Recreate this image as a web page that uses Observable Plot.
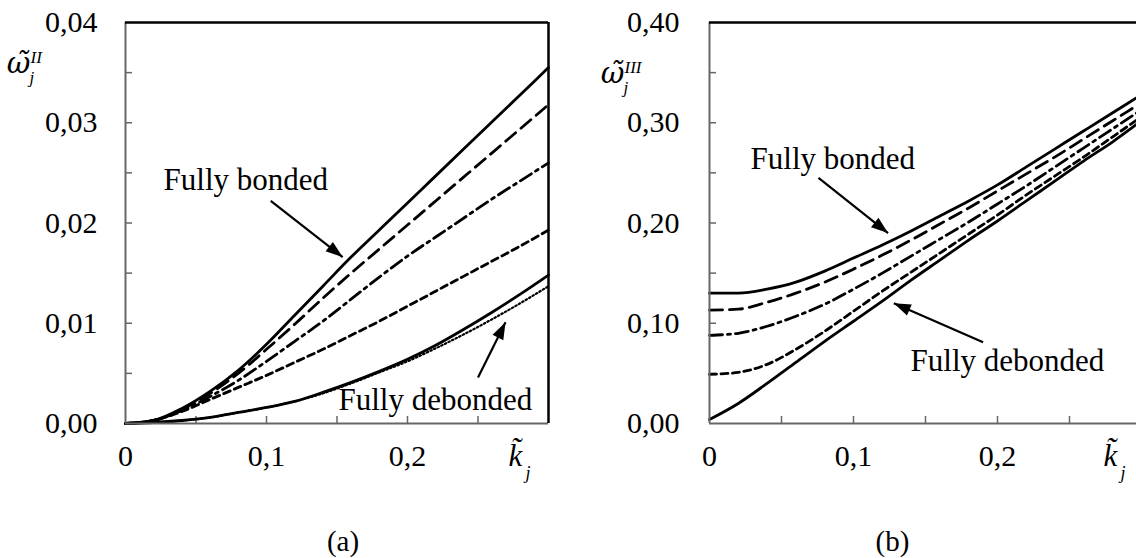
<!DOCTYPE html>
<html><head><meta charset="utf-8">
<script src="https://cdn.jsdelivr.net/npm/d3@7"></script>
<script src="https://cdn.jsdelivr.net/npm/@observablehq/plot@0.6"></script>
<style>
html,body{margin:0;padding:0;background:#fff;overflow:hidden;width:1136px;height:558px;}
#wrap{position:relative;width:1136px;height:558px;overflow:hidden;background:#fff;}
#wrap svg{position:absolute;top:0;}
</style></head><body><div id="wrap"></div>
<script>
// ---------- data ----------
const kGrid = [0, 0.02, 0.04, 0.06, 0.08, 0.1, 0.12, 0.14, 0.16, 0.18, 0.2, 0.22, 0.24, 0.26, 0.28, 0.3];

// panel (a)  omega^II
const aBonded    = [0, 0.0003, 0.0015, 0.0032, 0.0053, 0.0079, 0.0108, 0.0137, 0.0166, 0.0193, 0.0220, 0.0247, 0.0274, 0.0301, 0.0328, 0.0355];
const aLongDash  = [0, 0.0003, 0.0014, 0.0030, 0.0050, 0.0074, 0.0099, 0.0125, 0.0150, 0.0174, 0.0198, 0.0222, 0.0246, 0.0270, 0.0294, 0.0318];
const aDashDot   = [0, 0.0003, 0.0013, 0.0027, 0.0043, 0.0062, 0.0082, 0.0102, 0.0124, 0.0146, 0.0167, 0.0186, 0.0205, 0.0224, 0.0242, 0.0260];
const aShortDash = [0, 0.0003, 0.0012, 0.0024, 0.0036, 0.0048, 0.0061, 0.0074, 0.0088, 0.0102, 0.0117, 0.0132, 0.0147, 0.0162, 0.0177, 0.0193];
const aDebonded  = [0, 0.0001, 0.0003, 0.0006, 0.0011, 0.0016, 0.0022, 0.0031, 0.0041, 0.0052, 0.0064, 0.0078, 0.0094, 0.0111, 0.0129, 0.0148];
const aDotted    = [0, 0.0001, 0.0003, 0.0006, 0.0011, 0.0016, 0.0022, 0.0030, 0.0040, 0.0051, 0.0062, 0.0075, 0.0089, 0.0104, 0.0120, 0.0137];

// panel (b)  omega^III
const bBonded    = [0.130, 0.130, 0.134, 0.141, 0.152, 0.165, 0.178, 0.192, 0.207, 0.222, 0.238, 0.256, 0.274, 0.292, 0.310, 0.328];
const bLongDash  = [0.113, 0.114, 0.121, 0.130, 0.141, 0.154, 0.168, 0.183, 0.199, 0.215, 0.232, 0.249, 0.266, 0.284, 0.302, 0.320];
const bDashDot   = [0.088, 0.090, 0.097, 0.107, 0.119, 0.134, 0.150, 0.167, 0.184, 0.201, 0.219, 0.237, 0.256, 0.275, 0.294, 0.313];
const bShortDash = [0.049, 0.051, 0.059, 0.074, 0.092, 0.112, 0.132, 0.151, 0.170, 0.189, 0.208, 0.228, 0.247, 0.266, 0.286, 0.306];
const bDebonded  = [0.004, 0.020, 0.040, 0.061, 0.082, 0.102, 0.122, 0.143, 0.163, 0.183, 0.202, 0.222, 0.242, 0.262, 0.281, 0.302];

// ticks
const xDomain = [0, 0.3];
const xLabelTicks = [0, 0.1, 0.2];
const xMinorTicks = [0.05, 0.1, 0.15, 0.2, 0.25];
const aYDomain = [0, 0.04];
const aYLabelTicks = [0, 0.01, 0.02, 0.03, 0.04];
const aYMinorTicks = [0.005, 0.01, 0.015, 0.02, 0.025, 0.03, 0.035];
const bYDomain = [0, 0.4];
const bYLabelTicks = [0, 0.1, 0.2, 0.3, 0.4];
const bYMinorTicks = [0.05, 0.1, 0.15, 0.2, 0.25, 0.3, 0.35];

// annotations (label position, arrow start, arrow tip) in data units
const aNotes = [
  {label: "Fully bonded",   x: 0.027, y: 0.0243, x1: 0.103, y1: 0.0222, x2: 0.154, y2: 0.0166},
  {label: "Fully debonded", x: 0.151, y: 0.0023, x1: 0.250, y1: 0.0046, x2: 0.2695, y2: 0.0101}
];
const bNotes = [
  {label: "Fully bonded",   x: 0.0285, y: 0.264, x1: 0.0757, y1: 0.245, x2: 0.124, y2: 0.190},
  {label: "Fully debonded", x: 0.1396, y: 0.062, x1: 0.190, y1: 0.081, x2: 0.128, y2: 0.120}
];

// ---------- styles ----------
const lineStyles = [
  {dash: null, w: 2.8},
  {dash: "13,7", w: 2.8},
  {dash: "13,5,3,5", w: 2.8},
  {dash: "7,4.5", w: 2.8},
  {dash: null, w: 2.8},
  {dash: "1.5,2.5", w: 2.2}
];
const FONT = "'Liberation Serif', 'Times New Roman', serif";
const fmtY = d => d3.format(".2f")(d).replace(".", ",");
const fmtX = d => d === 0 ? "0" : d3.format(".1f")(d).replace(".", ",");

function panel(cfg) {
  const frameW = cfg.width - cfg.mL - cfg.mR;
  const frameH = cfg.height - cfg.mT - cfg.mB;
  const sx = frameW / (cfg.xDomain[1] - cfg.xDomain[0]);
  const sy = frameH / (cfg.yDomain[1] - cfg.yDomain[0]);
  const rot = d => Math.atan2((d.x2 - d.x1) * sx, (d.y2 - d.y1) * sy) * 180 / Math.PI;
  const seriesMarks = cfg.series.map((vals, i) => {
    const st = lineStyles[i];
    const rows = kGrid.map((k, j) => ({k, v: vals[j]}));
    return Plot.line(rows, {x: "k", y: "v", stroke: "black", strokeWidth: st.w,
      strokeDasharray: st.dash || undefined, curve: "monotone-x"});
  });
  const it = {fontStyle: "italic", fill: "black", lineAnchor: "bottom"};
  return Plot.plot({
    width: cfg.width, height: cfg.height,
    marginLeft: cfg.mL, marginRight: cfg.mR, marginTop: cfg.mT, marginBottom: cfg.mB,
    x: {domain: cfg.xDomain, axis: null},
    y: {domain: cfg.yDomain, axis: null},
    style: {fontFamily: FONT, fontSize: "30px", background: "white", color: "black", overflow: "visible"},
    marks: [
      Plot.tickX(xMinorTicks, {x: d => d, insetTop: frameH - 7, stroke: "#666", strokeWidth: 1.5}),
      Plot.tickY(cfg.yMinor, {y: d => d, insetRight: frameW - 7, stroke: "#666", strokeWidth: 1.5}),
      ...seriesMarks,
      Plot.ruleX([cfg.xDomain[0]], {stroke: "#666", strokeWidth: 2}),
      Plot.ruleY([cfg.yDomain[0]], {stroke: "#666", strokeWidth: 2}),
      Plot.ruleY([cfg.yDomain[1]], {stroke: "black", strokeWidth: 2.5}),
      Plot.ruleX([cfg.xDomain[1]], {stroke: "black", strokeWidth: 2.5}),
      Plot.axisX(xLabelTicks, {tickSize: 0, tickPadding: 21, tickFormat: fmtX, fontSize: 30}),
      Plot.axisY(cfg.yLabels, {tickSize: 0, tickPadding: cfg.yPad, tickFormat: fmtY, fontSize: 30}),
      Plot.text(cfg.notes, {x: "x", y: "y", text: "label", textAnchor: "start", lineAnchor: "middle", fontSize: 31, fill: "black"}),
      Plot.link(cfg.notes, {x1: "x1", y1: "y1", x2: "x2", y2: "y2", stroke: "black", strokeWidth: 2.2}),
      Plot.vector(cfg.notes, {x: "x2", y: "y2", rotate: rot, length: 17, r: 6, shape: "spike", anchor: "end", fill: "black", stroke: "none"}),
      // axis titles
      Plot.text(["\u03C9\u0303"], {...it, text: d => d, frameAnchor: "top-left", dx: cfg.wT[0], dy: cfg.wT[1], textAnchor: "middle", fontSize: 29, fontFamily: "'DejaVu Serif', serif"}),
      Plot.text([cfg.sup], {...it, text: d => d, frameAnchor: "top-left", dx: cfg.wT[0] + 12, dy: cfg.wT[1] - 10, textAnchor: "start", fontSize: 17}),
      Plot.text(["j"], {...it, text: d => d, frameAnchor: "top-left", dx: cfg.wT[0] + 11, dy: cfg.wT[1] + 10, textAnchor: "start", fontSize: 17}),
      Plot.text(["k\u0303"], {...it, text: d => d, frameAnchor: "bottom-left", dx: cfg.kT[0], dy: cfg.kT[1], textAnchor: "start", fontSize: 31}),
      Plot.text(["j"], {...it, text: d => d, frameAnchor: "bottom-left", dx: cfg.kT[0] + 17, dy: cfg.kT[1] + 13, textAnchor: "start", fontSize: 18}),
      // caption
      Plot.text([cfg.caption], {text: d => d, frameAnchor: "bottom", dx: cfg.capDx, dy: 127, textAnchor: "middle", lineAnchor: "bottom", fontSize: 29, fill: "black"})
    ]
  });
}

const wrap = document.getElementById("wrap");
const left = panel({
  width: 560, height: 558, mL: 125, mR: 12, mT: 22, mB: 135,
  xDomain, yDomain: aYDomain, yMinor: aYMinorTicks, yLabels: aYLabelTicks, yPad: 28,
  series: [aBonded, aLongDash, aDashDot, aShortDash, aDebonded, aDotted],
  notes: aNotes, sup: "II", wT: [-107, 50], kT: [383, 42], caption: "(a)", capDx: 6
});
left.style.left = "0px";
wrap.appendChild(left);
const right = panel({
  width: 590, height: 558, mL: 149, mR: 9, mT: 22, mB: 135,
  xDomain, yDomain: bYDomain, yMinor: bYMinorTicks, yLabels: bYLabelTicks, yPad: 30,
  series: [bBonded, bLongDash, bDashDot, bShortDash, bDebonded],
  notes: bNotes, sup: "III", wT: [-97, 60], kT: [394, 42], caption: "(b)", capDx: -33
});
right.style.left = "560px";
wrap.appendChild(right);
</script>
</body></html>
